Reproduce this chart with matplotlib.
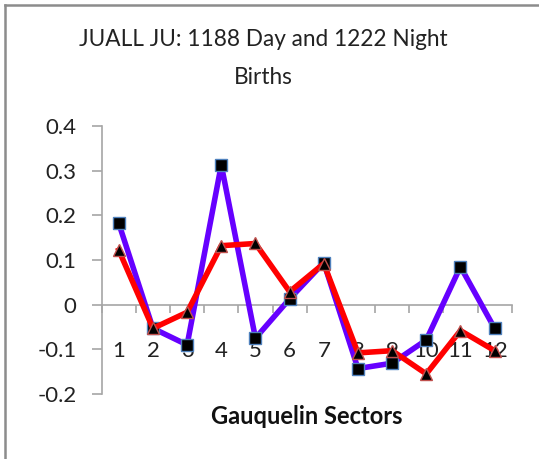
import matplotlib
matplotlib.use("Agg")
import matplotlib.pyplot as plt
from matplotlib.lines import Line2D
import numpy as np

plt.rcParams['font.family'] = ['Lato', 'DejaVu Sans']

sectors = [1, 2, 3, 4, 5, 6, 7, 8, 9, 10, 11, 12]
sector_labels = [str(s) for s in sectors]
day_values = [0.182, -0.053, -0.090, 0.313, -0.075, 0.013, 0.094, -0.143, -0.131, -0.079, 0.085, -0.053]
night_values = [0.122, -0.053, -0.017, 0.132, 0.137, 0.029, 0.092, -0.108, -0.103, -0.155, -0.058, -0.103]
y_ticks = [-0.2, -0.1, 0, 0.1, 0.2, 0.3, 0.4]
y_tick_labels = ['-0.2', '-0.1', '0', '0.1', '0.2', '0.3', '0.4']

W, H = 539, 459
fig = plt.figure(figsize=(W / 100, H / 100), dpi=100)
fig.patch.set_facecolor('white')

ax = fig.add_axes([101.7 / W, 1 - 394 / H, (511.7 - 101.7) / W, (394 - 126) / H])
ax.set_facecolor('none')

ax.plot(sectors, day_values, color='#6600FF', lw=4.0, marker='s', ms=8.5,
        mfc='black', mec='#4F81BD', mew=1.0, zorder=3, solid_joinstyle='round')
ax.plot(sectors, night_values, color='#FF0000', lw=4.0, marker='^', ms=8,
        mfc='black', mec='#C0504D', mew=1.0, zorder=4, solid_joinstyle='round')

ax.set_xlim(0.5, 12.5)
ax.set_ylim(-0.2, 0.4)

for s in ['top', 'right']:
    ax.spines[s].set_visible(False)
ax.spines['bottom'].set_position(('data', 0))
for s in ['left', 'bottom']:
    ax.spines[s].set_color('#A6A6A6')
    ax.spines[s].set_linewidth(1.2)

ax.set_yticks(y_ticks)
ax.set_yticklabels(y_tick_labels, fontsize=16, color='#222222')
ax.tick_params(axis='y', direction='out', length=7.2, width=1.2, color='#A6A6A6', pad=11)

ax.set_xticks(sectors)
ax.set_xticklabels(sector_labels, fontsize=16, color='#222222')
ax.set_xticks(np.arange(0.5, 13.0, 1.0), minor=True)
ax.tick_params(axis='x', which='major', length=0, pad=26)
ax.tick_params(axis='x', which='minor', direction='out', length=6, width=1.2, color='#A6A6A6')

fig.text(263 / W, 1 - 40 / H, 'JUALL JU: 1188 Day and 1222 Night', ha='center', va='center',
         fontsize=16.3, color='#222222')
fig.text(263 / W, 1 - 77 / H, 'Births', ha='center', va='center', fontsize=16.3, color='#222222')
fig.text(307 / W, 1 - 416 / H, 'Gauquelin Sectors', ha='center', va='center', fontsize=17,
         fontweight='bold', color='#111111')

fig.add_artist(Line2D([5 / W, 5 / W], [0, 1 - 5 / H], transform=fig.transFigure, color='#8C8C8C', lw=1.8))
fig.add_artist(Line2D([5 / W, 1], [1 - 5 / H, 1 - 5 / H], transform=fig.transFigure, color='#8C8C8C', lw=1.8))

fig.savefig('out.png', dpi=100)
